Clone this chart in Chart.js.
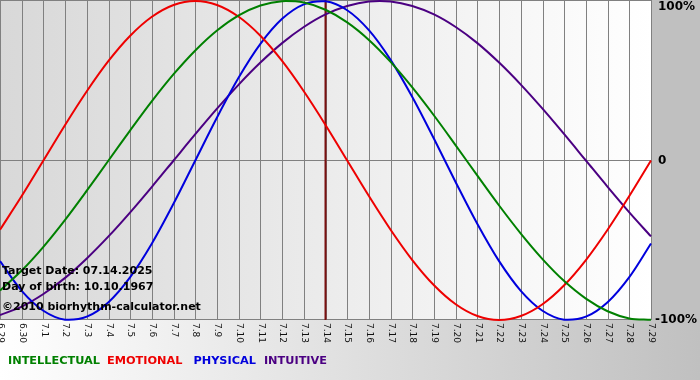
<!DOCTYPE html>
<html>
<head>
<meta charset="utf-8">
<script src="https://cdn.jsdelivr.net/npm/chart.js@4.4.1/dist/chart.umd.min.js"></script>
<style>
html,body{margin:0;padding:0;background:#fff;}
#wrap{width:700px;height:380px;position:relative;}
</style>
</head>
<body>
<div id="wrap"><canvas id="c" width="700" height="380"></canvas></div>
<script>
// ---- data ----
const dates = ['6.29','6.30','7.1','7.2','7.3','7.4','7.5','7.6','7.7','7.8','7.9','7.10','7.11','7.12','7.13','7.14','7.15','7.16','7.17','7.18','7.19','7.20','7.21','7.22','7.23','7.24','7.25','7.26','7.27','7.28','7.29'];
const intellectual = [-81.5,-69.0,-54.1,-37.2,-18.9,0,18.9,37.2,54.1,69.0,81.5,91.0,97.2,99.9,99.0,94.5,86.6,75.6,61.8,45.8,28.2,9.5,-9.5,-28.2,-45.8,-61.8,-75.6,-86.6,-94.5,-99.0,-99.9];
const emotional = [-43.4,-22.3,0,22.3,43.4,62.4,78.2,90.1,97.5,100,97.5,90.1,78.2,62.4,43.4,22.3,0,-22.3,-43.4,-62.4,-78.2,-90.1,-97.5,-100,-97.5,-90.1,-78.2,-62.4,-43.4,-22.3,0];
const physical = [-63.1,-81.7,-94.2,-99.8,-97.9,-88.8,-73.1,-52.0,-27.0,0,27.0,52.0,73.1,88.8,97.9,99.8,94.2,81.7,63.1,39.8,13.6,-13.6,-39.8,-63.1,-81.7,-94.2,-99.8,-97.9,-88.8,-73.1,-52.0];
const intuitive = [-96.9,-91.6,-83.7,-73.6,-61.4,-47.6,-32.5,-16.5,0,16.5,32.5,47.6,61.4,73.6,83.7,91.6,96.9,99.7,99.7,96.9,91.6,83.7,73.6,61.4,47.6,32.5,16.5,0,-16.5,-32.5,-47.6];
const seriesNames = ['INTELLECTUAL','EMOTIONAL','PHYSICAL','INTUITIVE'];
const yTickValues = [100, 0, -100];
const yTickLabels = ['100%', '0', '-100%'];
const targetDate = '7.14';
const infoLines = ['Target Date: 07.14.2025', 'Day of birth: 10.10.1967', '\u00A92010 biorhythm-calculator.net'];

// ---- styles ----
const colors = ['#008000', '#ee0000', '#0000dd', '#4b0082'];
const seriesData = [intellectual, emotional, physical, intuitive];

const bgPlugin = {
  id: 'bio',
  beforeDraw(chart) {
    const ctx = chart.ctx, ca = chart.chartArea;
    const W = chart.width, H = chart.height;
    ctx.save();
    let g = ctx.createLinearGradient(0, 0, W, 0);
    g.addColorStop(0, '#ffffff');
    g.addColorStop(1, '#c0c0c0');
    ctx.fillStyle = g;
    ctx.fillRect(0, 0, W, H);
    ctx.fillStyle = '#c0c0c0';
    ctx.fillRect(ca.right, 0, W - ca.right, ca.bottom);
    let g2 = ctx.createLinearGradient(ca.left, 0, ca.right, 0);
    g2.addColorStop(0, '#d8d8d8');
    g2.addColorStop(1, '#ffffff');
    ctx.fillStyle = g2;
    ctx.fillRect(ca.left, 0, ca.right - ca.left, ca.bottom);
    // grid
    const xs = chart.scales.x, ys = chart.scales.y;
    ctx.strokeStyle = '#808080';
    ctx.lineWidth = 1;
    ctx.beginPath();
    for (let i = 0; i < dates.length; i++) {
      const x = Math.round(xs.getPixelForValue(i)) + 0.5;
      ctx.moveTo(x, 0);
      ctx.lineTo(x, ca.bottom);
    }
    yTickValues.forEach(v => {
      const y = Math.round(ys.getPixelForValue(v)) - 0.5;
      ctx.moveTo(ca.left, y);
      ctx.lineTo(ca.right, y);
    });
    ctx.stroke();
    ctx.restore();
  },
  beforeDatasetsDraw(chart) {
    const ctx = chart.ctx, ca = chart.chartArea, xs = chart.scales.x;
    const x = xs.getPixelForValue(dates.indexOf(targetDate));
    ctx.save();
    ctx.strokeStyle = '#7a1010';
    ctx.lineWidth = 2;
    ctx.beginPath();
    ctx.moveTo(x, 0);
    ctx.lineTo(x, ca.bottom);
    ctx.stroke();
    ctx.restore();
  },
  afterDatasetsDraw(chart) {
    const ctx = chart.ctx, ca = chart.chartArea, xs = chart.scales.x, ys = chart.scales.y;
    ctx.save();
    // info text
    ctx.fillStyle = '#000';
    ctx.font = 'bold 11px "DejaVu Sans"';
    ctx.textAlign = 'left';
    ctx.textBaseline = 'middle';
    const infoY = [271, 287, 307];
    infoLines.forEach((t, i) => ctx.fillText(t, 2, infoY[i]));
    // x labels rotated
    ctx.font = '9px "DejaVu Sans"';
    ctx.fillStyle = '#111';
    dates.forEach((d, i) => {
      const x = xs.getPixelForValue(i);
      ctx.save();
      ctx.translate(x + 0.5, ca.bottom + 3);
      ctx.rotate(Math.PI / 2);
      ctx.textAlign = 'left';
      ctx.textBaseline = 'middle';
      ctx.fillText(d, 0, 0);
      ctx.restore();
    });
    // y labels
    ctx.font = 'bold 12px "DejaVu Sans"';
    ctx.fillStyle = '#000';
    ctx.textBaseline = 'middle';
    yTickValues.forEach((v, i) => {
      let y = ys.getPixelForValue(v);
      if (v === 100) y += 6;
      const x = v < 0 ? ca.right + 4 : ca.right + 7;
      ctx.fillText(yTickLabels[i], x, y);
    });
    // legend
    ctx.font = 'bold 11.3px "DejaVu Sans"';
    const legendGaps = [7, 11, 8];
    let lx = 8;
    seriesNames.forEach((n, i) => {
      ctx.fillStyle = colors[i];
      ctx.fillText(n, lx, 361);
      lx += ctx.measureText(n).width + (legendGaps[i] || 0);
    });
    ctx.restore();
  }
};

new Chart(document.getElementById('c'), {
  type: 'line',
  data: {
    labels: dates,
    datasets: seriesNames.map((n, i) => ({
      label: n,
      data: seriesData[i],
      borderColor: colors[i],
      backgroundColor: colors[i],
      borderWidth: 2,
      pointRadius: 0,
      tension: 0.33,
      fill: false,
      clip: false
    }))
  },
  options: {
    responsive: false,
    animation: false,
    devicePixelRatio: 1,
    layout: { padding: { left: 0, right: 49, top: 1, bottom: 60 } },
    plugins: { legend: { display: false }, tooltip: { enabled: false } },
    scales: {
      x: { display: false, offset: false },
      y: { display: false, min: -100, max: 100 }
    }
  },
  plugins: [bgPlugin]
});
</script>
</body>
</html>
